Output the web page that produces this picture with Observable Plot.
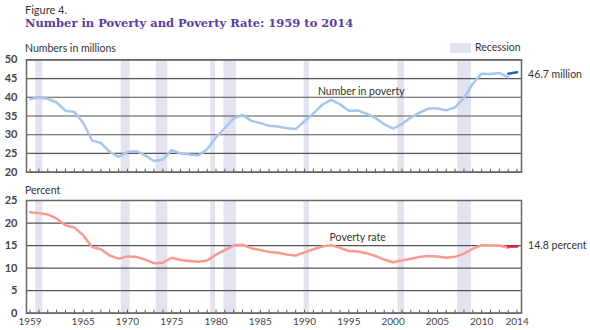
<!DOCTYPE html>
<html>
<head>
<meta charset="utf-8">
<script src="https://cdn.jsdelivr.net/npm/d3@7"></script>
<script src="https://cdn.jsdelivr.net/npm/@observablehq/plot@0.6"></script>
<style>
  html, body { margin: 0; padding: 0; background: #fff; }
  #wrap { position: relative; width: 590px; height: 330px; overflow: hidden; font-family: Lato, "Open Sans", sans-serif; color: #333; }
  .abs { position: absolute; white-space: nowrap; }
  #fig { left: 25px; top: 4px; font-size: 11px; line-height: 12px; color: #333; }
  #title { left: 25px; top: 17px; font-family: "DejaVu Serif", serif; font-weight: bold; font-size: 11.5px; line-height: 13px; color: #5a3e9b; }
  #lab1 { left: 25px; top: 42px; font-size: 10.5px; color: #333; }
  #lab2 { left: 25px; top: 184px; font-size: 10.5px; color: #333; }
  #legbox { left: 450px; top: 43px; width: 21px; height: 10px; background: #e3e2f1; }
  #legtxt { left: 475px; top: 41px; font-size: 10.5px; color: #333; }
  #p1 { left: 0; top: 40px; }
  #p2 { left: 0; top: 185px; }
</style>
</head>
<body>
<div id="wrap">
  <div class="abs" id="fig">Figure 4.</div>
  <div class="abs" id="title">Number in Poverty and Poverty Rate: 1959 to 2014</div>
  <div class="abs" id="lab1">Numbers in millions</div>
  <div class="abs" id="legbox"></div>
  <div class="abs" id="legtxt">Recession</div>
  <div class="abs" id="lab2">Percent</div>
  <div class="abs" id="p1"></div>
  <div class="abs" id="p2"></div>
</div>
<script>
// ---- data ----
const years = d3.range(1959, 2014); // 1959..2013 (old method)
const numberInPoverty = [39.5, 39.9, 39.6, 38.6, 36.4, 36.1, 33.2, 28.5, 27.8, 25.4,
  24.1, 25.4, 25.6, 24.5, 23.0, 23.4, 25.9, 25.0, 24.7, 24.5,
  26.1, 29.3, 31.8, 34.4, 35.3, 33.7, 33.1, 32.4, 32.2, 31.7,
  31.5, 33.6, 35.7, 38.0, 39.3, 38.1, 36.4, 36.5, 35.6, 34.5,
  32.8, 31.6, 32.9, 34.6, 35.9, 37.0, 37.0, 36.5, 37.3, 39.8,
  43.6, 46.3, 46.2, 46.5, 45.3];
const povertyRate = [22.4, 22.2, 21.9, 21.0, 19.5, 19.0, 17.3, 14.7, 14.2, 12.8,
  12.1, 12.6, 12.5, 11.9, 11.1, 11.2, 12.3, 11.8, 11.6, 11.4,
  11.7, 13.0, 14.0, 15.0, 15.2, 14.4, 14.0, 13.6, 13.4, 13.0,
  12.8, 13.5, 14.2, 14.8, 15.1, 14.5, 13.8, 13.7, 13.3, 12.7,
  11.9, 11.3, 11.7, 12.1, 12.5, 12.7, 12.6, 12.3, 12.5, 13.2,
  14.3, 15.1, 15.0, 15.0, 14.5];
// new method (2013 redesigned, 2014)
const newYears = [2013, 2014];
const newNumber = [46.3, 46.7];
const newRate = [14.8, 14.8];
// recessions (as placed on the chart)
const recStart = [1959.65, 1969.3, 1973.25, 1979.4, 1980.9, 1989.95, 2000.55, 2007.3];
const recEnd   = [1960.45, 1970.3, 1974.55, 1979.95, 1982.3, 1990.55, 2001.3, 2008.85];
const xTickYears = [1959, 1965, 1970, 1975, 1980, 1985, 1990, 1995, 2000, 2005, 2010, 2014];
const endLabels = ["46.7 million", "14.8 percent"];
const seriesLabels = ["Number in poverty", "Poverty rate"];

// ---- build tables ----
const oldNum = years.map((y, i) => ({year: y, v: numberInPoverty[i]}));
const oldRate = years.map((y, i) => ({year: y, v: povertyRate[i]}));
const newNum = newYears.map((y, i) => ({year: y, v: newNumber[i]}));
const newRt = newYears.map((y, i) => ({year: y, v: newRate[i]}));
const rec = recStart.map((s, i) => ({s, e: recEnd[i]}));
const allYears = d3.range(1959, 2015);

const X = {domain: [1958.6, 2014.5]};
const W = 590, ML = 26, MR = 69;
const font = "Lato, 'Open Sans', sans-serif";

function panel({yDomain, yTicks, oldData, newData, oldColor, newColor, endLabel, endY, sLabel, sX, sY, height, mt, mb, xLabels}) {
  const marks = [
    Plot.rectX(rec, {x1: "s", x2: "e", y1: yDomain[0], y2: yDomain[1], fill: "#e3e2f1"}),
    Plot.gridY(yTicks, {stroke: "#555", strokeOpacity: 1, strokeWidth: 1.2}),
    Plot.axisY(yTicks, {tickSize: 0, tickPadding: 9, fontSize: 11, fill: "#444", fontWeight: "bold", label: null}),
    Plot.axisX(allYears, {tickSize: -3, tickFormat: () => "", stroke: "#555", label: null}),
    Plot.line(oldData, {x: "year", y: "v", stroke: oldColor, strokeWidth: 2.5}),
    Plot.line(newData, {x: "year", y: "v", stroke: newColor, strokeWidth: 2.5}),
    Plot.text([endLabel], {x: 2014, y: endY, text: d => d, textAnchor: "start", dx: 11, fontSize: 10.5, fill: "#333", clip: false}),
    Plot.text([sLabel], {x: sX, y: sY, text: d => d, fontSize: 10.5, fill: "#333"}),
    Plot.frame({stroke: "#666", strokeWidth: 1.5})
  ];
  if (xLabels) marks.push(Plot.axisX(xTickYears, {tickSize: 0, tickPadding: 5, tickFormat: d => String(d), fontSize: 10, fill: "#444", label: null}));
  return Plot.plot({
    width: W, height,
    marginLeft: ML, marginRight: MR, marginTop: mt, marginBottom: mb,
    style: {fontFamily: font, background: "transparent", overflow: "visible"},
    x: {...X, axis: null},
    y: {domain: yDomain, axis: null},
    marks
  });
}

document.getElementById("p1").appendChild(panel({
  yDomain: [20, 50], yTicks: [20, 25, 30, 35, 40, 45, 50],
  oldData: oldNum, newData: newNum, oldColor: "#a9c6ea", newColor: "#1f6cb4",
  endLabel: endLabels[0], endY: 46.1, sLabel: seriesLabels[0], sX: 1996.4, sY: 41.6,
  height: 145, mt: 19.3, mb: 13.3, xLabels: false
}));
document.getElementById("p2").appendChild(panel({
  yDomain: [0, 25], yTicks: [0, 5, 10, 15, 20, 25],
  oldData: oldRate, newData: newRt, oldColor: "#fa9a92", newColor: "#e4202e",
  endLabel: endLabels[1], endY: 15.0, sLabel: seriesLabels[1], sX: 1996.0, sY: 16.8,
  height: 145, mt: 15, mb: 17.3, xLabels: true
}));
</script>
</body>
</html>
